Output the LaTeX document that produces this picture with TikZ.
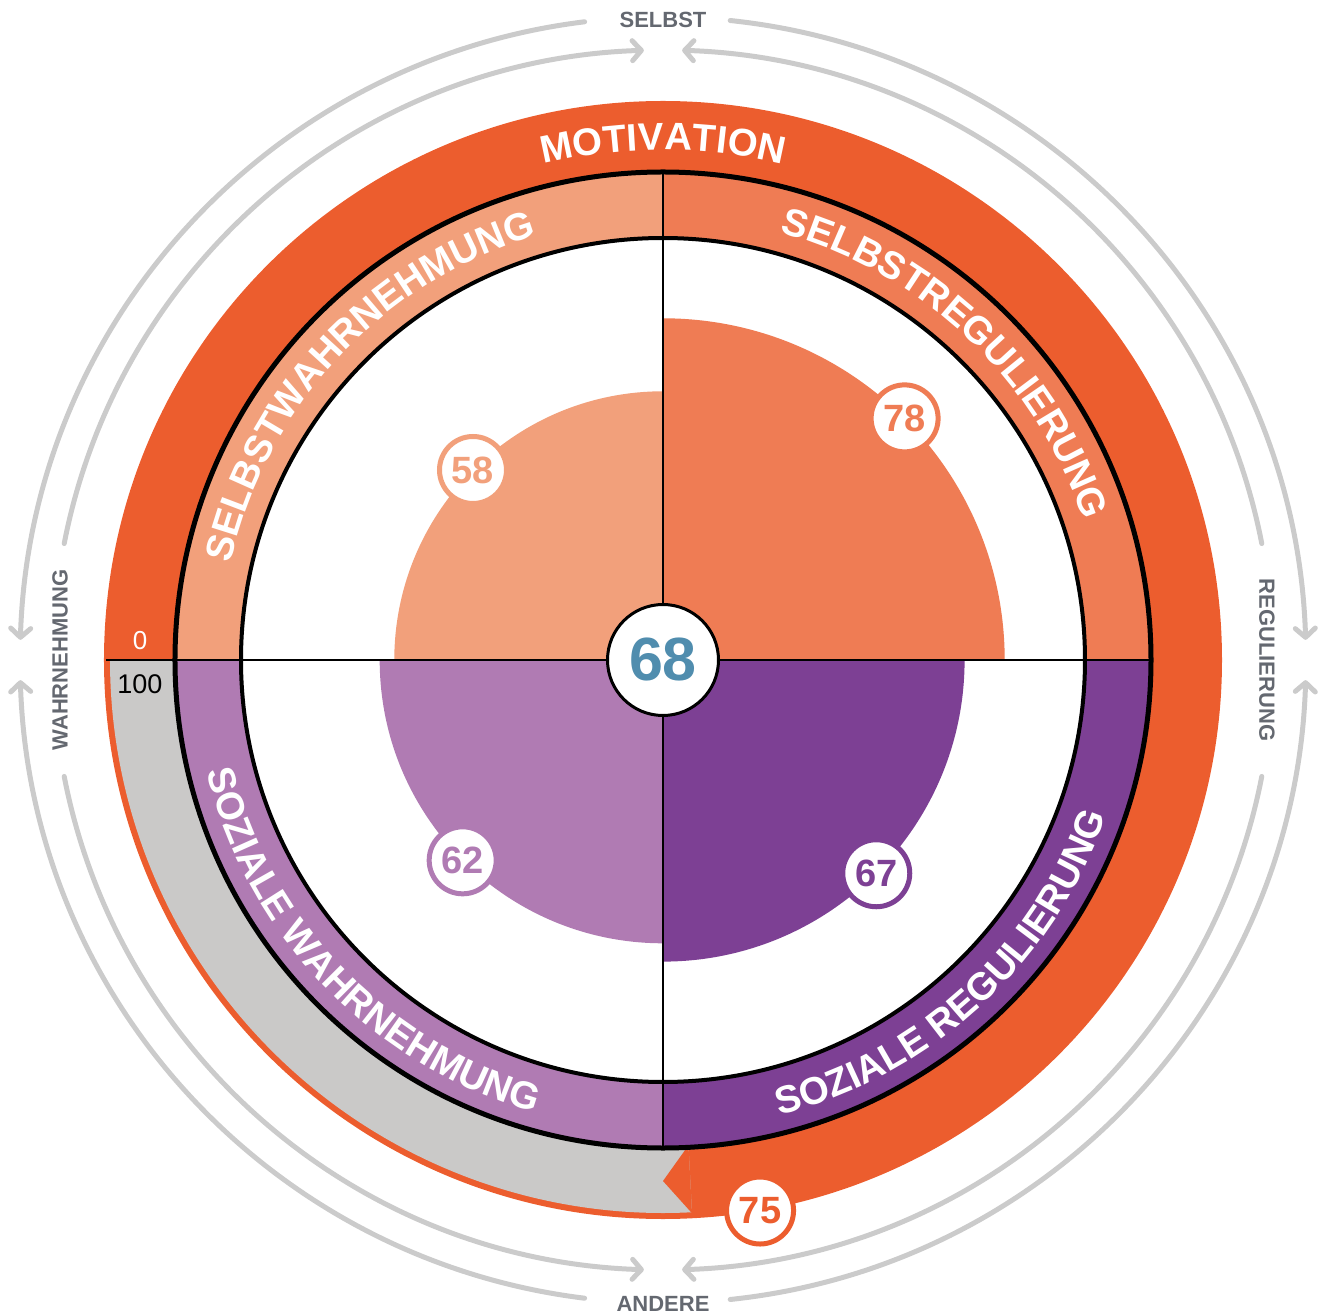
\documentclass[tikz,border=0pt]{standalone}
\usepackage{fontspec}
\setmainfont{Liberation Sans}
\usetikzlibrary{decorations.text,arrows.meta}
\definecolor{motiv}{HTML}{EC5D2E}
\definecolor{swahr}{HTML}{F2A07B}
\definecolor{sreg}{HTML}{EF7C54}
\definecolor{sozw}{HTML}{B07BB3}
\definecolor{sozr}{HTML}{7D4094}
\definecolor{gauge}{HTML}{CAC9C8}
\definecolor{centr}{HTML}{508DAE}
\definecolor{arcg}{HTML}{CBCBCB}
\definecolor{lblg}{HTML}{646870}
\newcommand{\bandfont}{\fontsize{38.5}{40}\selectfont\bfseries\color{white}}
\begin{document}
\begin{tikzpicture}[x=1pt,y=1pt,
  badge/.style={circle, draw=#1, fill=white, line width=5pt, minimum size=67pt, inner sep=0pt, text=#1, font=\fontsize{38}{40}\selectfont\bfseries},
  garc/.style={draw=arcg, line width=5pt, line cap=round},
  garrow/.style={garc, -{Straight Barb[length=9pt,width=20pt,round]}},
  axlabel/.style={text=lblg, font=\fontsize{22}{24}\selectfont\bfseries, inner sep=0pt},
  bandtext/.style={decorate, decoration={text along path, text align=center, text={|\bandfont|#1}}},
]
\useasboundingbox (-663,-654) rectangle (659,660);

% motivation ring and gauge
\fill[motiv, even odd rule] (0,0) circle[radius=559] (0,0) circle[radius=488];
\fill[gauge] (180:488) arc[start angle=180,end angle=273,radius=488] -- (273:553) arc[start angle=273,end angle=180,radius=553] -- cycle;
\fill[motiv] (273:486) -- (270:521) -- (273:554) -- cycle;

% quadrant bands
\fill[sreg]  (0,0) -- (0:488)   arc[start angle=0,  end angle=90, radius=488] -- cycle;
\fill[swahr] (0,0) -- (90:488)  arc[start angle=90, end angle=180,radius=488] -- cycle;
\fill[sozw]  (0,0) -- (180:488) arc[start angle=180,end angle=270,radius=488] -- cycle;
\fill[sozr]  (0,0) -- (270:488) arc[start angle=270,end angle=360,radius=488] -- cycle;
\fill[white] (0,0) circle[radius=422];

% value wedges
\fill[swahr] (0,0) -- (90:268.7)  arc[start angle=90, end angle=180,radius=268.7] -- cycle;
\fill[sreg]  (0,0) -- (0:341.7)   arc[start angle=0,  end angle=90, radius=341.7] -- cycle;
\fill[sozw]  (0,0) -- (180:283.3) arc[start angle=180,end angle=270,radius=283.3] -- cycle;
\fill[sozr]  (0,0) -- (270:301.6) arc[start angle=270,end angle=360,radius=301.6] -- cycle;

% black lines
\draw[line width=5pt] (0,0) circle[radius=488];
\draw[line width=4pt] (0,0) circle[radius=422];
\draw[line width=2pt] (-557,0) -- (488,0);
\draw[line width=2pt] (0,488) -- (0,-488);

% centre
\node[circle, draw, line width=3pt, fill=white, minimum size=111pt, inner sep=0pt, text=centr, font=\fontsize{61}{63}\selectfont\bfseries] (total) at (0,0) {68};

% badges
\node[badge=swahr] (b58) at (135:268.7) {58};
\node[badge=sreg]  (b78) at (45:341.7) {78};
\node[badge=sozw]  (b62) at (225:283.3) {62};
\node[badge=sozr]  (b67) at (315:301.6) {67};
\node[badge=motiv] (b75) at (-80:559) {75};

% scale labels
\node[text=white, font=\fontsize{26}{28}\selectfont, inner sep=0pt] (zero) at (-523,19) {0};
\node[text=black, font=\fontsize{27}{29}\selectfont, inner sep=0pt] (hundred) at (-523,-24) {100};

% band texts
\path[bandtext=MOTIVATION] (150:510) arc[start angle=150,end angle=30,radius=510];
\path[bandtext=SELBSTWAHRNEHMUNG] (202:443) arc[start angle=202,end angle=72,radius=443];
\path[bandtext=SELBSTREGULIERUNG] (111.5:443) arc[start angle=111.5,end angle=-18.5,radius=443];
\path[bandtext=SOZIALE WAHRNEHMUNG] (159:470) arc[start angle=159,end angle=289,radius=470];
\path[bandtext=SOZIALE REGULIERUNG] (247.5:470) arc[start angle=247.5,end angle=377.5,radius=470];

% outer arrows
\draw[garrow] (97:643) arc[start angle=97,end angle=178.2,radius=643];
\draw[garrow] (169:610) arc[start angle=169,end angle=91.8,radius=610];
\draw[garrow] (84:643) arc[start angle=84,end angle=1.8,radius=643];
\draw[garrow] (11:610) arc[start angle=11,end angle=88.2,radius=610];
\draw[garrow] (263:643) arc[start angle=263,end angle=181.8,radius=643];
\draw[garrow] (191:610) arc[start angle=191,end angle=268.2,radius=610];
\draw[garrow] (276:643) arc[start angle=276,end angle=358.2,radius=643];
\draw[garrow] (349:610) arc[start angle=349,end angle=271.8,radius=610];

% axis labels
\node[axlabel] (selbst) at (0,640) {SELBST};
\node[axlabel] (andere) at (0,-644) {ANDERE};
\node[axlabel, rotate=90] (wahr) at (-603,0) {WAHRNEHMUNG};
\node[axlabel, rotate=-90] (regul) at (604,0) {REGULIERUNG};
\end{tikzpicture}
\end{document}
